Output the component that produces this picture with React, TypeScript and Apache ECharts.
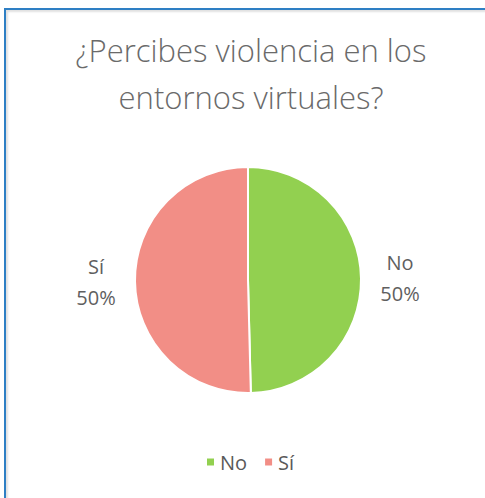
import React, { useEffect, useRef } from "react";
import * as echarts from "echarts";

const TITLE = "¿Percibes violencia en los\nentornos virtuales?";
const categories = ["No", "Sí"];
const values = [49.6, 50.4];
const colors = ["#92D050", "#F28E86"];

export default function App() {
  const ref = useRef<HTMLDivElement>(null);
  useEffect(() => {
    if (!ref.current) return;
    const chart = echarts.init(ref.current, null, { renderer: "svg" });
    chart.setOption({
      animation: false,
      backgroundColor: "transparent",
      title: {
        text: TITLE,
        left: 246,
        top: 21,
        textAlign: "center",
        textStyle: {
          fontFamily: "'Open Sans', sans-serif",
          fontWeight: 300,
          fontSize: 31,
          lineHeight: 47,
          color: "#6a6a6a",
          align: "center",
        },
      },
      legend: {
        data: categories,
        bottom: 21,
        left: 200,
        icon: "rect",
        itemWidth: 9,
        itemHeight: 9,
        itemGap: 16,
        textStyle: {
          fontFamily: "'Open Sans', sans-serif",
          fontSize: 20,
          color: "#595959",
        },
      },
      series: [
        {
          type: "pie",
          center: [248, 280],
          radius: 113,
          startAngle: 90,
          clockwise: true,
          percentPrecision: 0,
          color: colors,
          itemStyle: { borderColor: "#ffffff", borderWidth: 2 },
          label: {
            show: true,
            position: "outside",
            formatter: "{t|{b}\n{d}%}",
            distanceToLabelLine: 0,
            rich: {
              t: {
                fontFamily: "'Open Sans', sans-serif",
                fontSize: 20,
                lineHeight: 31,
                color: "#5f5f5f",
                width: 50,
                align: "center",
              },
            },
          },
          labelLine: { show: false, length: 14, length2: 0 },
          emphasis: { disabled: true },
          data: categories.map((c, i) => ({ name: c, value: values[i] })),
        },
      ],
    });
    return () => chart.dispose();
  }, []);
  return (
    <div style={{ position: "fixed", left: 0, top: 0, width: 485, height: 498, background: "#fff" }}>
      <div
        style={{
          position: "absolute",
          left: 4,
          top: 8,
          right: -10,
          bottom: -10,
          borderLeft: "2px solid #2E7FC4",
          borderTop: "2px solid #2E7FC4",
          boxShadow: "inset 2px 2px 2px rgba(0,0,0,0.12)",
        }}
      />
      <div ref={ref} style={{ position: "absolute", left: 0, top: 0, width: 485, height: 498 }} />
    </div>
  );
}
